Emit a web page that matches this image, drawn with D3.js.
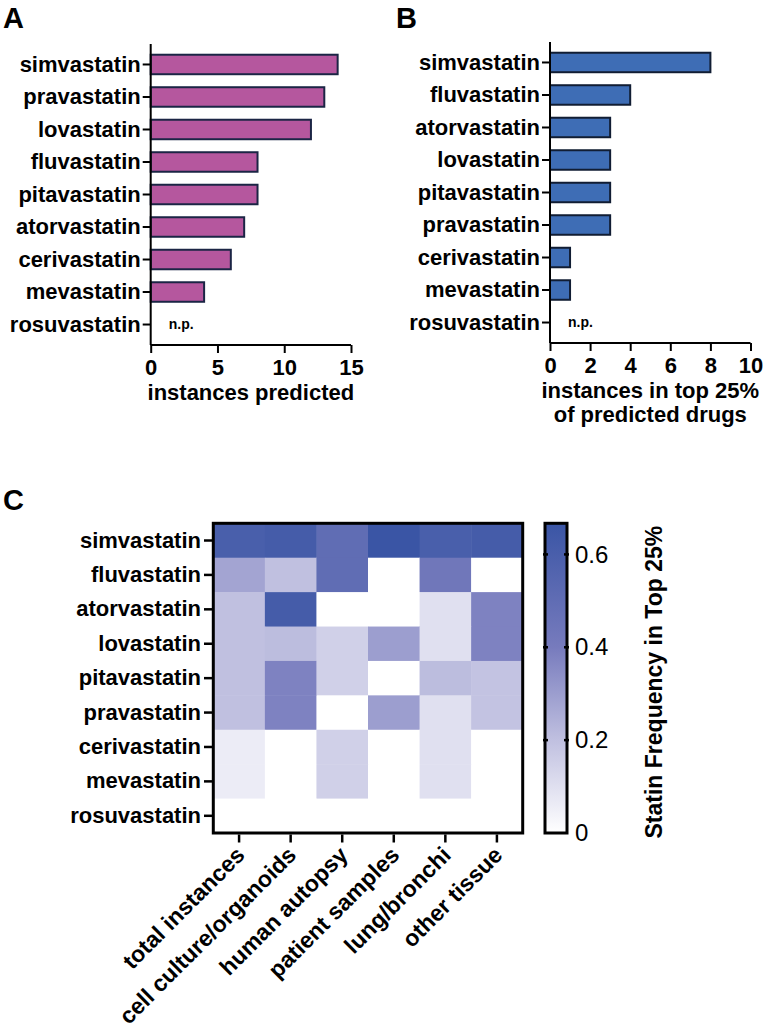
<!DOCTYPE html>
<html>
<head>
  <script src="https://cdnjs.cloudflare.com/ajax/libs/d3/7.8.5/d3.min.js"></script>
  <style>
    body, html { margin: 0; padding: 0; background: white; }
    svg { display: block; font-family: 'Liberation Sans', Arial, sans-serif; }
    .lbl { font-weight: bold; font-size: 22px; }
  </style>
</head>
<body>
  <svg id="chart" width="766" height="1034"></svg>
  <script>
    // panel A
    const drugsA = ["simvastatin", "pravastatin", "lovastatin", "fluvastatin", "pitavastatin",
      "atorvastatin", "cerivastatin", "mevastatin", "rosuvastatin"];
    const valuesA = [14, 13, 12, 8, 8, 7, 6, 4, null];
    const ticksA = [0, 5, 10, 15];

    // panel B
    const drugsB = ["simvastatin", "fluvastatin", "atorvastatin", "lovastatin", "pitavastatin",
      "pravastatin", "cerivastatin", "mevastatin", "rosuvastatin"];
    const valuesB = [8, 4, 3, 3, 3, 3, 1, 1, null];
    const ticksB = [0, 2, 4, 6, 8, 10];

    // panel C heatmap
    const heatRows = ["simvastatin", "fluvastatin", "atorvastatin", "lovastatin", "pitavastatin",
      "pravastatin", "cerivastatin", "mevastatin", "rosuvastatin"];
    const heatCols = ["total instances", "cell culture/organoids", "human autopsy",
      "patient samples", "lung/bronchi", "other tissue"];
    const heatValues = [
      [0.60, 0.62, 0.50, 0.667, 0.60, 0.62],
      [0.28, 0.20, 0.50, 0, 0.43, 0],
      [0.20, 0.62, 0, 0, 0.10, 0.38],
      [0.20, 0.21, 0.15, 0.30, 0.10, 0.38],
      [0.20, 0.38, 0.15, 0, 0.21, 0.19],
      [0.20, 0.38, 0, 0.30, 0.10, 0.19],
      [0.06, 0, 0.15, 0, 0.10, 0],
      [0.06, 0, 0.15, 0, 0.10, 0],
      [0, 0, 0, 0, 0, 0]
    ];
    const colorTicks = [0, 0.2, 0.4, 0.6];
    const colorMax = 0.667;

    const svg = d3.select("#chart");

    function panelLetter(t, x, y) {
      svg.append("text").attr("x", x).attr("y", y)
        .style("font-weight", "bold").style("font-size", "29px").text(t);
    }

    function barPanel(o) {
      const g = svg.append("g");
      const x = d3.scaleLinear().domain(o.domain).range([o.x0, o.x1]);
      const y = d3.scaleBand().domain(o.cats).range([o.y0, o.y1])
        .paddingInner(0.4).paddingOuter(0.33);

      g.selectAll("rect.bar")
        .data(o.cats.map((c, i) => ({ c: c, v: o.values[i] })).filter(d => d.v != null))
        .join("rect")
        .attr("class", "bar")
        .attr("x", x(0))
        .attr("y", d => y(d.c))
        .attr("width", d => x(d.v) - x(0))
        .attr("height", y.bandwidth())
        .attr("fill", o.fill)
        .attr("stroke", o.stroke)
        .attr("stroke-width", 2);

      // n.p. labels
      g.selectAll("text.np")
        .data(o.cats.map((c, i) => ({ c: c, v: o.values[i] })).filter(d => d.v == null))
        .join("text")
        .attr("class", "np")
        .attr("x", x(0) + 18)
        .attr("y", d => y(d.c) + y.bandwidth() / 2)
        .attr("dy", "0.35em")
        .style("font-weight", "bold").style("font-size", "14px")
        .text("n.p.");

      const yAxis = g.append("g").attr("transform", `translate(${o.x0},0)`)
        .call(d3.axisLeft(y).tickSize(8).tickPadding(2));
      yAxis.select(".domain").attr("d", `M0,${o.y0}V${o.y1}`).attr("stroke-width", 2);
      yAxis.selectAll(".tick line").attr("stroke-width", 2);
      yAxis.selectAll(".tick text").attr("class", "lbl").attr("fill", "#000");

      const xAxis = g.append("g").attr("transform", `translate(0,${o.y1})`)
        .call(d3.axisBottom(x).tickValues(o.ticks).tickSize(8).tickPadding(6));
      xAxis.select(".domain").attr("d", `M${o.x0},0H${o.x1}`).attr("stroke-width", 2);
      xAxis.selectAll(".tick line").attr("stroke-width", 2);
      xAxis.selectAll(".tick text").attr("class", "lbl").attr("fill", "#000");

      o.title.forEach((t, i) => {
        g.append("text").attr("class", "lbl")
          .attr("x", (o.x0 + o.x1) / 2).attr("y", o.y1 + 55 + i * 24)
          .attr("text-anchor", "middle").text(t);
      });
    }

    panelLetter("A", 3, 28);
    barPanel({
      cats: drugsA, values: valuesA, domain: [0, 15], ticks: ticksA,
      x0: 150.7, x1: 351, y0: 44, y1: 345,
      fill: "#b5579e", stroke: "#1b2545",
      title: ["instances predicted"]
    });

    panelLetter("B", 396, 28);
    barPanel({
      cats: drugsB, values: valuesB, domain: [0, 10], ticks: ticksB,
      x0: 550, x1: 750.5, y0: 42, y1: 343,
      fill: "#3e6db5", stroke: "#111d33",
      title: ["instances in top 25%", "of predicted drugs"]
    });

    // heatmap
    panelLetter("C", 3, 510);
    const hx = d3.scaleBand().domain(heatCols).range([213.3, 522.7]);
    const hy = d3.scaleBand().domain(heatRows).range([523.3, 833]);
    const color = d3.scaleLinear()
      .domain([0, 0.2, 0.4, colorMax])
      .range(["#ffffff", "#c0c0e0", "#777bbd", "#3a55a5"]);

    const cells = [];
    heatRows.forEach((r, i) => heatCols.forEach((c, j) => cells.push({ r: r, c: c, v: heatValues[i][j] })));
    const hg = svg.append("g");
    hg.selectAll("rect.cell").data(cells).join("rect")
      .attr("class", "cell")
      .attr("x", d => hx(d.c)).attr("y", d => hy(d.r))
      .attr("width", hx.bandwidth() + 0.5).attr("height", hy.bandwidth() + 0.5)
      .attr("fill", d => color(d.v));
    hg.append("rect")
      .attr("x", 213.3).attr("y", 523.3).attr("width", 522.7 - 213.3).attr("height", 833 - 523.3)
      .attr("fill", "none").attr("stroke", "#000").attr("stroke-width", 3);

    const hyAxis = hg.append("g").attr("transform", "translate(212,0)")
      .call(d3.axisLeft(hy).tickSize(8).tickPadding(3));
    hyAxis.select(".domain").remove();
    hyAxis.selectAll(".tick line").attr("stroke-width", 2.5);
    hyAxis.selectAll(".tick text").attr("class", "lbl").attr("fill", "#000");

    const hxAxis = hg.append("g").attr("transform", "translate(0,834.5)")
      .call(d3.axisBottom(hx).tickSize(8));
    hxAxis.select(".domain").remove();
    hxAxis.selectAll(".tick line").attr("stroke-width", 2.5);
    hxAxis.selectAll(".tick text").attr("class", "lbl").attr("fill", "#000")
      .style("font-size", "23px")
      .attr("text-anchor", "end")
      .attr("dy", null)
      .attr("transform", "translate(7,22) rotate(-45)")
      .attr("x", 0).attr("y", 0);

    // colour bar
    const cbX = 545, cbW = 22, cbTop = 523.3, cbBot = 833;
    const cy = d3.scaleLinear().domain([0, colorMax]).range([cbBot, cbTop]);
    const grad = svg.append("defs").append("linearGradient")
      .attr("id", "cbgrad").attr("x1", 0).attr("y1", 1).attr("x2", 0).attr("y2", 0);
    color.domain().forEach(v => {
      grad.append("stop").attr("offset", v / colorMax).attr("stop-color", color(v));
    });
    svg.append("rect").attr("x", cbX).attr("y", cbTop).attr("width", cbW).attr("height", cbBot - cbTop)
      .attr("fill", "url(#cbgrad)").attr("stroke", "#000").attr("stroke-width", 3);
    const cbAxis = svg.append("g").attr("transform", `translate(${cbX + cbW},0)`)
      .call(d3.axisRight(cy).tickValues(colorTicks).tickFormat(d => d === 0 ? "0" : d3.format(".1f")(d))
        .tickSize(0).tickPadding(8));
    cbAxis.select(".domain").remove();
    cbAxis.selectAll(".tick text").style("font-size", "24px").attr("fill", "#000");
    svg.selectAll("line.cbtick").data(colorTicks.filter(d => d > 0)).join("line")
      .attr("class", "cbtick")
      .attr("x1", cbX - 2).attr("x2", cbX + 3)
      .attr("y1", d => cy(d)).attr("y2", d => cy(d))
      .attr("stroke", "#000").attr("stroke-width", 2.5);
    svg.selectAll("line.cbtick2").data(colorTicks.filter(d => d > 0)).join("line")
      .attr("class", "cbtick2")
      .attr("x1", cbX + cbW - 3).attr("x2", cbX + cbW + 2)
      .attr("y1", d => cy(d)).attr("y2", d => cy(d))
      .attr("stroke", "#000").attr("stroke-width", 2.5);

    svg.append("text").attr("class", "lbl")
      .style("font-size", "23px")
      .attr("transform", `translate(662,${(cbTop + cbBot) / 2 + 4}) rotate(-90)`)
      .attr("text-anchor", "middle")
      .text("Statin Frequency in Top 25%");
  </script>
</body>
</html>
